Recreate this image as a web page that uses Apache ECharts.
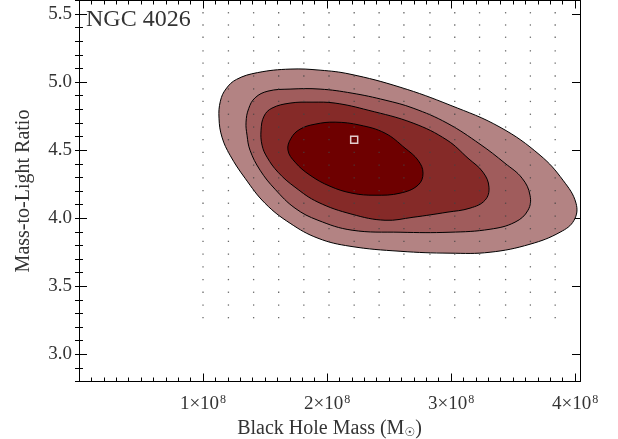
<!DOCTYPE html>
<html><head><meta charset="utf-8">
<script src="https://cdn.jsdelivr.net/npm/echarts@6/dist/echarts.min.js"></script>
<style>html,body{margin:0;padding:0;background:#fff}#c{width:618px;height:439px}</style>
</head><body><div id="c"></div>
<script>
// Values in units: x = black hole mass / 1e8 Msun, y = mass-to-light ratio
const xMajorTicks = [1, 2, 3, 4];
const yMajorTicks = [3.0, 3.5, 4.0, 4.5, 5.0, 5.5];
const gridMass = [1.00, 1.205, 1.408, 1.61, 1.813, 2.016, 2.219, 2.42, 2.62, 2.83, 3.03, 3.23, 3.44, 3.64, 3.84];
const gridML = [5.51, 5.42, 5.33, 5.23, 5.14, 5.045, 4.95, 4.858, 4.764, 4.67, 4.577, 4.484, 4.39, 4.297, 4.203, 4.11, 4.016, 3.923, 3.83, 3.736, 3.643, 3.549, 3.456, 3.362, 3.269];
const bestFit = [2.219, 4.577];
const contourLevel1 = [[1.129,4.735],[1.140,4.860],[1.185,4.950],[1.270,5.020],[1.440,5.070],[1.702,5.096],[1.944,5.088],[2.185,5.059],[2.589,4.963],[2.992,4.831],[3.395,4.669],[3.718,4.463],[3.903,4.279],[4.008,4.110],[3.992,3.985],[3.879,3.897],[3.637,3.809],[3.315,3.75],[2.992,3.743],[2.589,3.757],[2.185,3.794],[1.927,3.853],[1.702,3.963],[1.5,4.110],[1.339,4.294],[1.218,4.463],[1.153,4.596]];
const contourLevel2 = [[1.347,4.706],[1.368,4.805],[1.420,4.885],[1.524,4.934],[1.702,4.949],[1.944,4.949],[2.202,4.919],[2.468,4.868],[2.694,4.809],[2.968,4.699],[3.234,4.544],[3.435,4.404],[3.573,4.294],[3.637,4.169],[3.621,4.059],[3.516,3.971],[3.315,3.919],[2.992,3.897],[2.589,3.897],[2.202,3.912],[1.927,3.985],[1.742,4.074],[1.581,4.213],[1.460,4.353],[1.379,4.5],[1.355,4.610]];
const contourLevel3 = [[1.468,4.647],[1.492,4.750],[1.556,4.809],[1.702,4.846],[1.879,4.853],[2.065,4.846],[2.331,4.794],[2.694,4.699],[2.968,4.574],[3.137,4.441],[3.258,4.338],[3.306,4.228],[3.274,4.132],[3.153,4.074],[2.968,4.044],[2.694,4.007],[2.468,3.985],[2.202,4.029],[1.927,4.118],[1.742,4.228],[1.605,4.338],[1.516,4.449],[1.476,4.537]];
const contourLevel4 = [[1.685,4.5],[1.710,4.588],[1.782,4.654],[1.903,4.691],[2.065,4.706],[2.266,4.684],[2.468,4.625],[2.629,4.515],[2.734,4.426],[2.774,4.331],[2.734,4.243],[2.589,4.184],[2.387,4.169],[2.202,4.184],[2.024,4.235],[1.863,4.316],[1.742,4.412]];
const contourColors = ['#b38383', '#a05c5c', '#852a28', '#6e0000'];

const FONT = '"Liberation Serif", "DejaVu Serif", serif';
const TXT = '#333';
const X_MIN = 0, X_MAX = 4.04, Y_MIN = 2.8, Y_MAX = 5.6;

const dots = [];
gridML.forEach(y => gridMass.forEach(x => dots.push([x, y])));

function majorX(pos, labels) {
  return {
    type: 'value', position: pos, min: X_MIN, max: X_MAX, gridIndex: 0,
    axisLine: {show: true, onZero: false, lineStyle: {color: '#000', width: 1}},
    axisTick: {show: true, inside: true, length: 8, customValues: xMajorTicks, lineStyle: {color: '#000'}},
    axisLabel: labels ? {
      show: true, customValues: xMajorTicks, margin: 12,
      formatter: v => '{n|' + Math.round(v) + '×10}{s|8}',
      rich: {
        n: {fontFamily: FONT, fontSize: 19, color: TXT, lineHeight: 22},
        s: {fontFamily: FONT, fontSize: 12, color: TXT, lineHeight: 22, verticalAlign: 'top', padding: [0, 0, 0, 1]}
      }
    } : {show: false},
    splitLine: {show: false},
    name: labels ? 'Black Hole Mass (M{sub|☉})' : '',
    nameLocation: 'middle', nameGap: 33,
    nameTextStyle: {fontFamily: FONT, fontSize: 20, color: TXT,
      rich: {sub: {fontFamily: '"DejaVu Sans", sans-serif', fontSize: 12, color: TXT, verticalAlign: 'bottom', lineHeight: 16, padding: [8, 0, 0, 0]}}}
  };
}
function minorX(pos) {
  return {
    type: 'value', position: pos, min: X_MIN, max: X_MAX, interval: 0.1, gridIndex: 0,
    axisLine: {show: false}, axisLabel: {show: false}, splitLine: {show: false},
    axisTick: {show: true, inside: true, length: 4, lineStyle: {color: '#000'}}
  };
}
function majorY(pos, labels) {
  return {
    type: 'value', position: pos, min: Y_MIN, max: Y_MAX, gridIndex: 0,
    axisLine: {show: true, onZero: false, lineStyle: {color: '#000', width: 1}},
    axisTick: {show: true, inside: true, length: 8, customValues: yMajorTicks, lineStyle: {color: '#000'}},
    axisLabel: labels ? {show: true, customValues: yMajorTicks, margin: 7, formatter: v => v.toFixed(1),
      fontFamily: FONT, fontSize: 19, color: TXT} : {show: false},
    splitLine: {show: false},
    name: labels ? 'Mass-to-Light Ratio' : '',
    nameLocation: 'middle', nameGap: 45, nameRotate: 90,
    nameTextStyle: {fontFamily: FONT, fontSize: 20, color: TXT}
  };
}
function minorY(pos) {
  return {
    type: 'value', position: pos, min: Y_MIN, max: Y_MAX, interval: 0.1, gridIndex: 0,
    axisLine: {show: false}, axisLabel: {show: false}, splitLine: {show: false},
    axisTick: {show: true, inside: true, length: 4, lineStyle: {color: '#000'}}
  };
}

function contourSeries(points, color, z) {
  return {
    type: 'custom', xAxisIndex: 0, yAxisIndex: 0, z: z, silent: true, clip: true,
    data: [points[0]],
    renderItem: (params, api) => ({
      type: 'polygon',
      shape: {points: points.map(p => api.coord(p)), smooth: 0.4},
      style: {fill: color, stroke: '#000', lineWidth: 1}
    })
  };
}

const chart = echarts.init(document.getElementById('c'), null, {renderer: 'canvas'});
chart.setOption({
  animation: false,
  backgroundColor: '#fff',
  title: {text: 'NGC 4026', left: 86, top: 8, padding: 0,
    textStyle: {fontFamily: FONT, fontSize: 24, fontWeight: 'normal', color: TXT}},
  grid: {left: 79, right: 38, top: 0.5, bottom: 57.5, outerBoundsMode: 'none', containLabel: false},
  xAxis: [majorX('bottom', true), minorX('bottom'), majorX('top', false), minorX('top')],
  yAxis: [majorY('left', true), minorY('left'), majorY('right', false), minorY('right')],
  series: [
    contourSeries(contourLevel1, contourColors[0], 1),
    contourSeries(contourLevel2, contourColors[1], 2),
    contourSeries(contourLevel3, contourColors[2], 3),
    contourSeries(contourLevel4, contourColors[3], 4),
    {type: 'scatter', xAxisIndex: 0, yAxisIndex: 0, z: 5, silent: true, data: dots,
      symbol: 'rect', symbolSize: 1.3, itemStyle: {color: '#444'}},
    {type: 'scatter', xAxisIndex: 0, yAxisIndex: 0, z: 6, silent: true, data: [bestFit],
      symbol: 'rect', symbolSize: 7, itemStyle: {color: 'rgba(0,0,0,0)', borderColor: '#fff', borderWidth: 1.5}}
  ]
});
</script></body></html>
